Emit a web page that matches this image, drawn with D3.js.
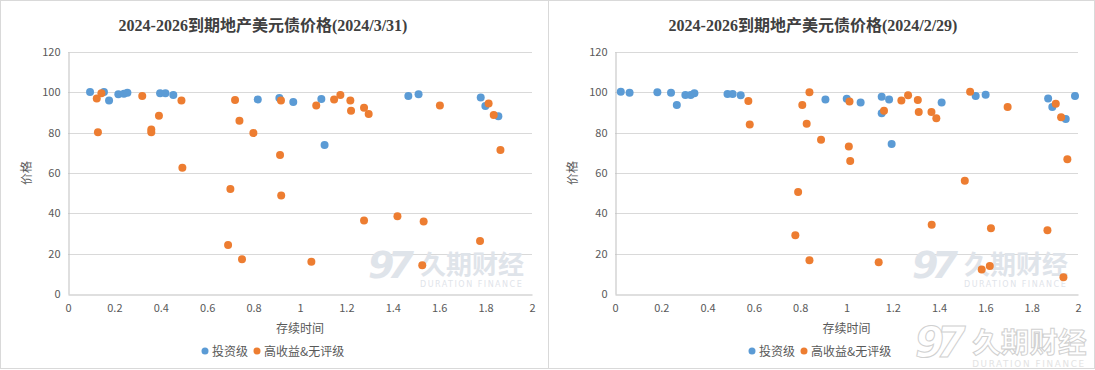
<!DOCTYPE html>
<html><head><meta charset="utf-8">
<script src="https://cdn.jsdelivr.net/npm/d3@7"></script>
<style>
body{margin:0;background:#fff;}
svg{display:block;}
</style></head>
<body><svg id="c" width="1095" height="370"></svg>
<script>
// ---- Text ----
const titleLeft = "2024-2026到期地产美元债价格(2024/3/31)";
const titleRight = "2024-2026到期地产美元债价格(2024/2/29)";
const seriesNames = ["投资级", "高收益&无评级"];
const xTicks = [0, 0.2, 0.4, 0.6, 0.8, 1, 1.2, 1.4, 1.6, 1.8, 2];
const yTicks = [0, 20, 40, 60, 80, 100, 120];
const xTitle = "存续时间";
const yTitle = "价格";

// ---- Data: left panel (2024/3/31) ----
const leftIgX = [0.095,0.155,0.177,0.217,0.241,0.256,0.397,0.42,0.454,0.818,0.911,0.971,1.092,1.106,1.467,1.511,1.779,1.799,1.855];
const leftIgY = [100.2,100.2,95.9,99.0,99.3,99.8,99.5,99.5,98.7,96.5,97.2,95.2,96.7,73.9,98.2,99.0,97.5,93.2,88.2];

const leftHyX = [0.124,0.144,0.129,0.32,0.359,0.359,0.392,0.489,0.493,0.72,0.739,0.799,0.914,0.918,0.70,0.919,0.69,0.75,1.07,1.147,1.174,1.217,1.22,1.276,1.296,1.603,1.813,1.835,1.864,1.049,1.276,1.42,1.533,1.527,1.776];
const leftHyY = [97.0,99.5,80.2,98.2,81.6,80.2,88.4,95.9,62.6,96.2,85.9,79.8,68.9,96.0,52.1,48.9,24.3,17.2,93.5,96.5,98.7,96.0,90.9,92.4,89.2,93.5,94.5,88.7,71.4,16.0,36.5,38.5,35.9,14.2,26.3];

// ---- Data: right panel (2024/2/29) ----
const rightIgX = [0.025,0.063,0.183,0.242,0.267,0.304,0.327,0.343,0.486,0.508,0.543,0.909,1.001,1.061,1.152,1.152,1.184,1.195,1.411,1.558,1.601,1.871,1.889,1.947,1.987];
const rightIgY = [100.3,99.8,100.1,99.8,93.7,98.7,98.7,99.5,99.2,99.2,98.5,96.5,96.8,94.9,97.8,89.6,96.5,74.4,94.9,98.2,98.8,97.0,92.7,86.8,98.2];

const rightHyX = [0.576,0.582,0.809,0.84,0.828,0.89,0.791,0.779,0.84,1.013,1.01,1.016,1.162,1.237,1.266,1.308,1.312,1.367,1.388,1.534,1.696,1.904,1.927,1.954,1.511,1.368,1.624,1.868,1.139,1.584,1.619,1.937];
const rightHyY = [95.7,84.1,93.7,100.0,84.4,76.5,50.6,29.1,16.7,95.4,73.2,65.9,90.9,96.0,98.5,96.2,90.2,90.2,87.1,100.3,92.7,94.3,87.6,66.8,56.2,34.4,32.6,31.6,15.7,12.2,13.9,8.3];

const colors = ["#5B9BD5", "#ED7D31"];
const font = "'Noto Sans CJK SC','Microsoft YaHei',sans-serif";

const svg = d3.select("#c");

// panel borders
svg.append("rect").attr("x",0.5).attr("y",0.5).attr("width",548).attr("height",368)
  .attr("fill","none").attr("stroke","#d9d9d9");
svg.append("rect").attr("x",548.5).attr("y",0.5).attr("width",546).attr("height",368)
  .attr("fill","none").attr("stroke","#d9d9d9");

function watermark(g, x, y, s, fill, stroke){
  const w = g.append("g").attr("transform",`translate(${x},${y}) scale(${s})`);
  const st = sel => stroke ? sel.attr("fill","none").attr("stroke",stroke).attr("stroke-width",0.9) : sel.attr("fill",fill);
  st(w.append("text").attr("x",0).attr("y",30).text("97")
    .attr("font-family","'DejaVu Sans',sans-serif").attr("font-weight","bold").attr("font-style","italic")
    .attr("font-size",38).attr("letter-spacing",-7));
  st(w.append("text").attr("x",52).attr("y",26).text("久期财经")
    .attr("font-family",font).attr("font-weight","bold").attr("font-size",26));
  w.append("text").attr("x",52).attr("y",39).text("DURATION FINANCE")
    .attr("font-family","'DejaVu Sans',sans-serif").attr("font-size",8).attr("fill",fill || "#e3e3e3")
    .attr("letter-spacing",1.5);
}

function panel(o){
  const g = svg.append("g");
  const x = d3.scaleLinear().domain([0,2]).range([o.x0, o.x1]);
  const y = d3.scaleLinear().domain([0,120]).range([294, 52]);

  // title
  g.append("text").attr("x",o.tx).attr("y",31).attr("text-anchor","middle")
    .attr("font-family","'Liberation Serif','Noto Sans CJK SC',serif").attr("font-weight","bold")
    .attr("font-size",16).attr("fill","#404040").text(o.title);

  // gridlines
  g.append("g").selectAll("line").data(yTicks.filter(d=>d>0)).join("line")
    .attr("x1",o.x0).attr("x2",o.x1).attr("y1",d=>Math.round(y(d))+0.5).attr("y2",d=>Math.round(y(d))+0.5)
    .attr("stroke","#d9d9d9").attr("stroke-width",1);

  // watermark in plot (behind points)
  watermark(g, o.wx, 248, 1, "#dfe4ea", null);

  // y axis
  const ya = g.append("g").attr("transform",`translate(${o.x0+0.5},0)`)
    .call(d3.axisLeft(y).tickValues(yTicks).tickSize(0).tickPadding(8).tickFormat(d3.format("d")));
  ya.select(".domain").attr("stroke","#bfbfbf");
  ya.selectAll("text").attr("font-family",font).attr("font-size",11).attr("fill","#595959");

  // x axis
  const xa = g.append("g").attr("transform",`translate(0,${294.5})`)
    .call(d3.axisBottom(x).tickValues(xTicks).tickSize(0).tickPadding(10).tickFormat(d=>String(d)));
  xa.select(".domain").attr("stroke","#bfbfbf");
  xa.selectAll("text").attr("font-family",font).attr("font-size",11).attr("fill","#595959");

  // axis titles
  g.append("text").attr("x",(o.x0+o.x1)/2).attr("y",333).attr("text-anchor","middle")
    .attr("font-family",font).attr("font-size",12).attr("fill","#595959").text(xTitle);
  g.append("text").attr("transform",`translate(${o.ytx},173) rotate(-90)`).attr("text-anchor","middle")
    .attr("font-family",font).attr("font-size",12).attr("fill","#595959").text(yTitle);

  // points
  const ig = o.igX.map((v,i)=>({x:v,y:o.igY[i]}));
  const hy = o.hyX.map((v,i)=>({x:v,y:o.hyY[i]}));
  g.append("g").selectAll("circle").data(ig).join("circle")
    .attr("cx",d=>x(d.x)).attr("cy",d=>y(d.y)).attr("r",4).attr("fill",colors[0]);
  g.append("g").selectAll("circle").data(hy).join("circle")
    .attr("cx",d=>x(d.x)).attr("cy",d=>y(d.y)).attr("r",4).attr("fill",colors[1]);

  // legend
  const lg = g.append("g").attr("transform",`translate(${o.lx},351)`);
  lg.append("circle").attr("cx",0).attr("cy",0).attr("r",3.5).attr("fill",colors[0]);
  lg.append("text").attr("x",7).attr("y",4.5).attr("font-family",font).attr("font-size",12)
    .attr("fill","#595959").text(seriesNames[0]);
  lg.append("circle").attr("cx",52).attr("cy",0).attr("r",3.5).attr("fill",colors[1]);
  lg.append("text").attr("x",59).attr("y",4.5).attr("font-family",font).attr("font-size",12)
    .attr("fill","#595959").text(seriesNames[1]);
}

panel({x0:68, x1:532, tx:263, title:titleLeft, ytx:31, wx:368, lx:205,
       igX:leftIgX, igY:leftIgY, hyX:leftHyX, hyY:leftHyY});
panel({x0:615, x1:1078, tx:813, title:titleRight, ytx:577, wx:912, lx:752,
       igX:rightIgX, igY:rightIgY, hyX:rightHyX, hyY:rightHyY});

// large corner watermark (outline style)
watermark(svg, 915, 324, 1.1, null, "#d0d0d0");
</script></body></html>
